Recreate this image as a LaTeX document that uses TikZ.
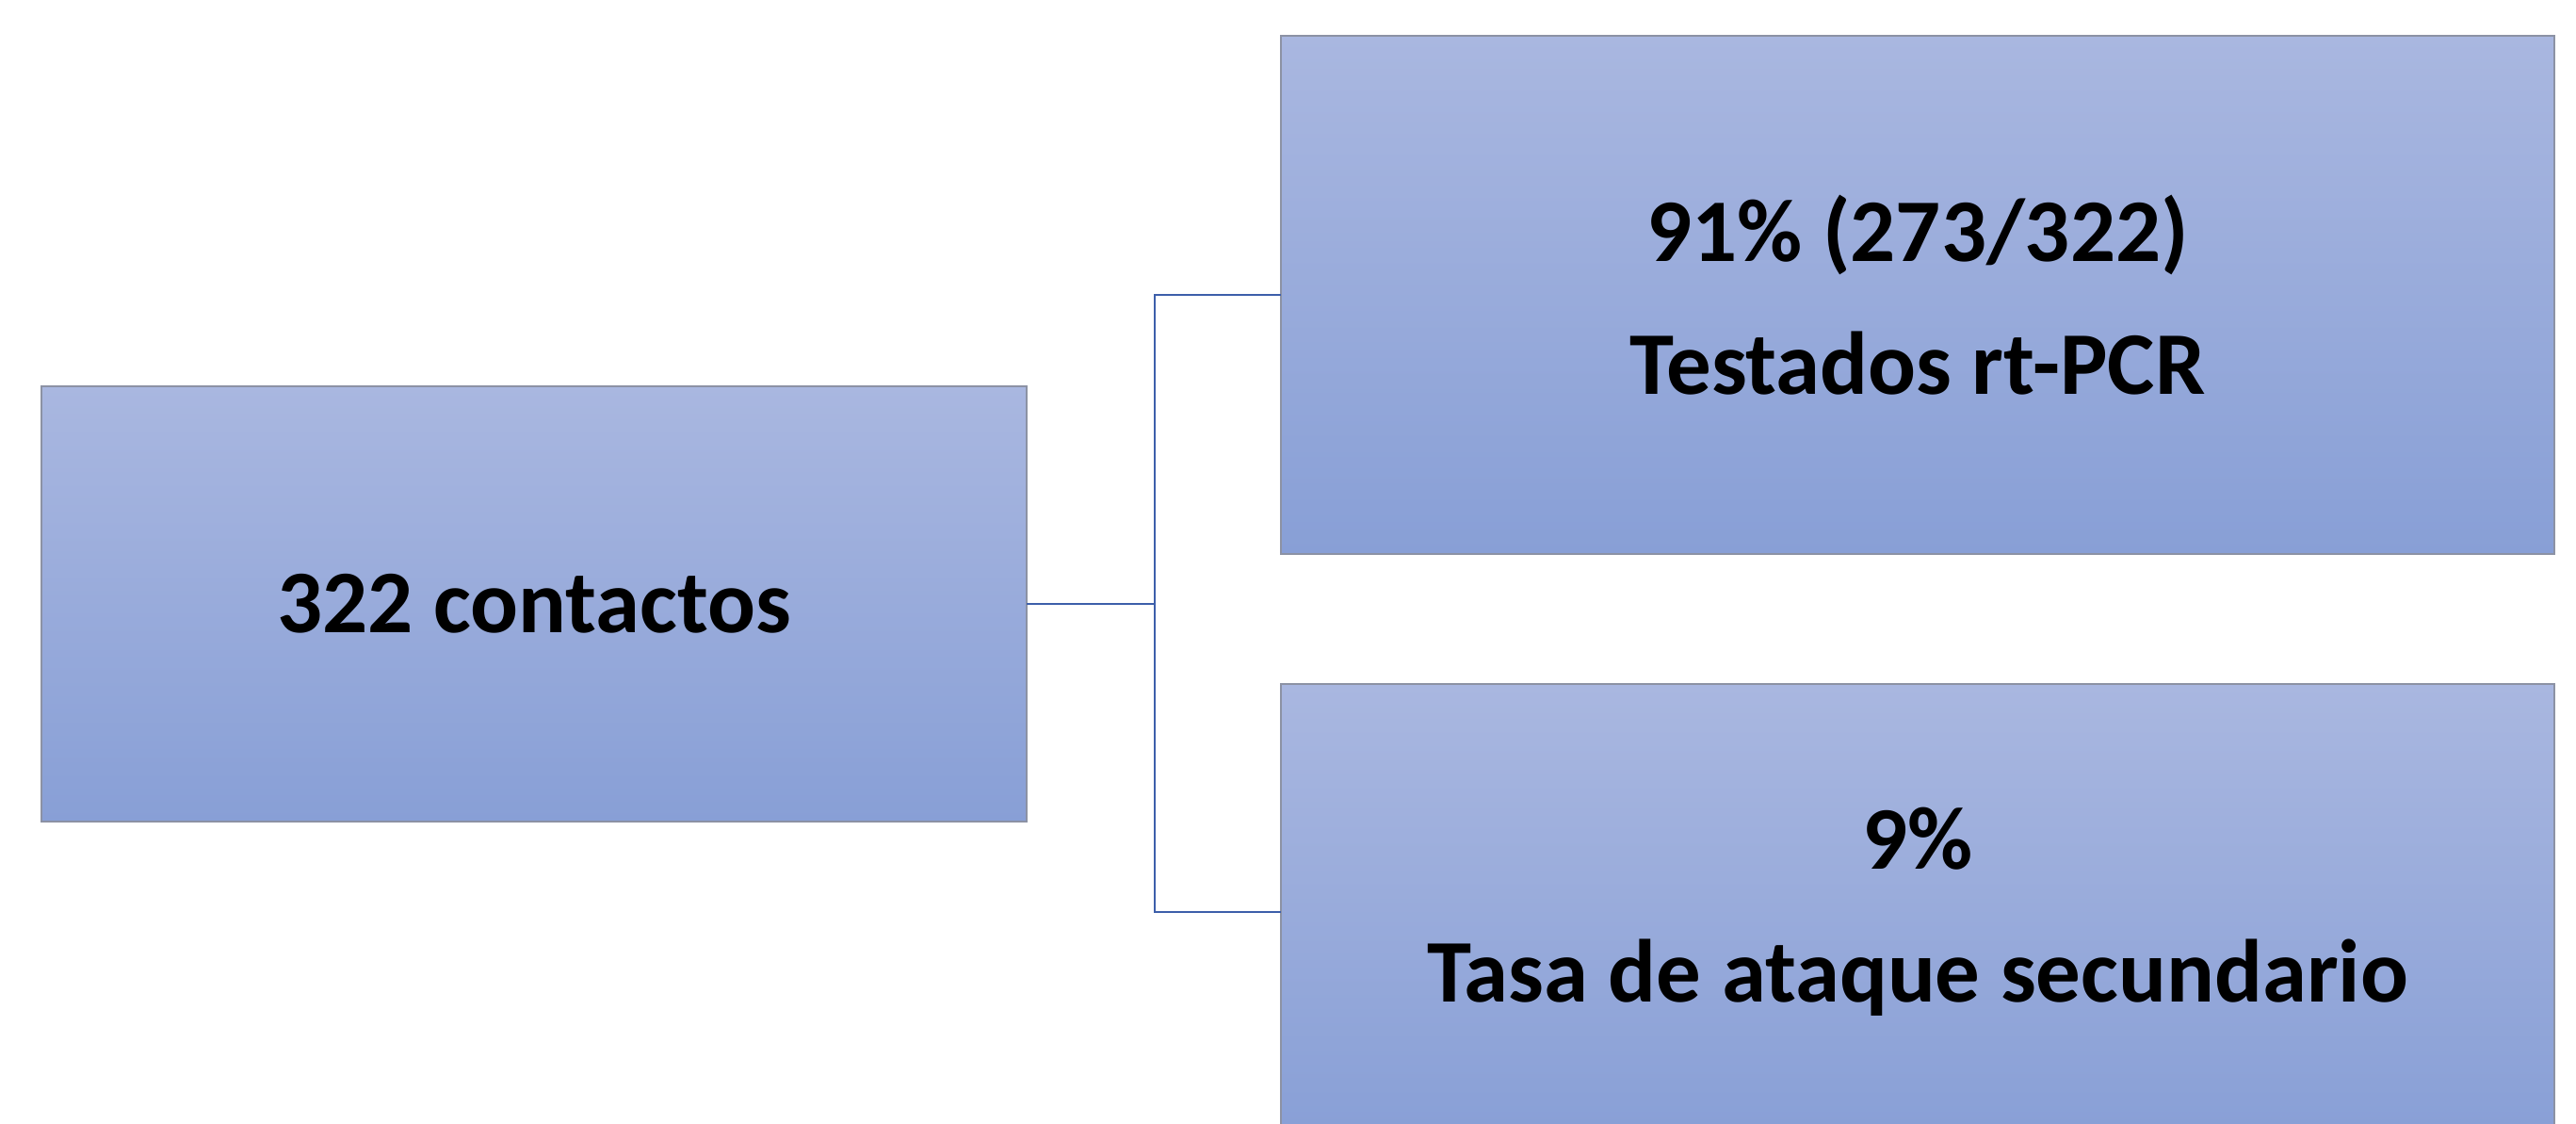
\documentclass[tikz,border=0pt]{standalone}
\usepackage{fontspec}
\setmainfont{Carlito}
\usepackage{tikz}

\definecolor{boxtop}{RGB}{169,183,224}
\definecolor{boxbot}{RGB}{136,159,214}
\definecolor{boxline}{RGB}{140,146,164}
\definecolor{linkblue}{RGB}{61,95,170}

\begin{document}
\begin{tikzpicture}[
        box/.style={rectangle, draw=boxline, line width=0.6pt, top color=boxtop, bottom color=boxbot,
            inner sep=0pt, outer sep=0pt, align=center,
            font=\fontsize{27}{40}\selectfont\bfseries},
        link/.style={draw=linkblue, line width=0.7pt}
    ]
        \useasboundingbox (0,0) rectangle (27.35,-11.93);
        \clip (0,0) rectangle (27.35,-11.93);

        \node[box, minimum width=10.46cm, minimum height=4.62cm] (contacts) at (5.67,-6.41) {322 contactos};
        \node[box, minimum width=13.52cm, minimum height=5.50cm] (pcr) at (20.36,-3.13) {91\% (273/322)\\Testados rt-PCR};
        \node[box, minimum width=13.52cm, minimum height=4.84cm] (attack) at (20.36,-9.68) {9\%\\Tasa de ataque secundario};

        \coordinate (fork) at (12.26,-6.41);

        \draw[link] (contacts.east) -- (fork);
        \draw[link] (fork) |- (pcr.west);
        \draw[link] (fork) |- (attack.west);
    \end{tikzpicture}
\end{document}
